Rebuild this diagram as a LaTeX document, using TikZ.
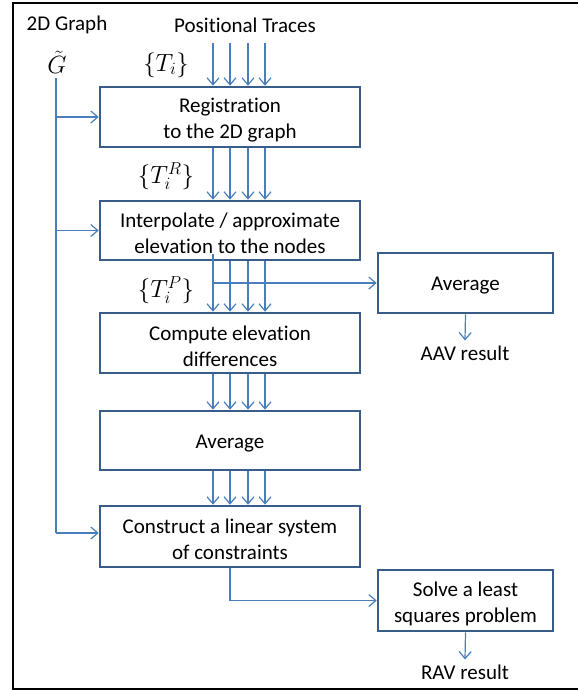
\documentclass[tikz,border=0pt]{standalone}
\usepackage{fontspec}
\setmainfont{Carlito}[Ligatures=NoCommon]
\usetikzlibrary{arrows.meta,calc}

\definecolor{boxblue}{HTML}{385D8A}
\definecolor{linkblue}{HTML}{4A7EBB}

\tikzset{
  boxtext/.style={align=center, inner sep=0pt, yshift=-3pt,
                  font=\fontsize{21}{26}\selectfont},
  stepbox/.style={draw=boxblue, line width=2.6pt, minimum width=260pt,
                  minimum height=60pt, inner sep=0pt,
                  label={[boxtext]center:#1}},
  sidebox/.style={stepbox=#1, minimum width=175pt},
  plaintext/.style={inner sep=1pt, font=\fontsize{21}{26}\selectfont},
  mathtext/.style={inner sep=0pt, font=\fontsize{23}{26}\selectfont},
  arr/.style={draw=linkblue, line width=1.2pt,
              -{Straight Barb[length=7pt,width=12pt,line width=1.2pt]}},
  plain/.style={draw=linkblue, line width=1.2pt},
}

\begin{document}
\begin{tikzpicture}[x=1pt, y=-1pt]
  \useasboundingbox (0,0) rectangle (578,691);

  % frame
  \draw[line width=1.1pt] (578,3) -- (13,3) -- (13,689) -- (578,689);

  % headings and inputs
  \node[plaintext] (graph) at (67,25) {2D Graph};
  \node[plaintext] (traces) at (245,25) {Positional Traces};
  \node[mathtext] (gt) at (57,62) {$\tilde{G}$};
  \node[mathtext] (ti) at (166,65) {$\{T_i\}$};
  \node[mathtext] (tir) at (166,176) {$\{T_i^R\}$};
  \node[mathtext] (tip) at (166,290) {$\{T_i^P\}$};

  % processing chain
  \node[stepbox={Registration\\to the 2D graph}] (b1) at (230,117) {};
  \node[stepbox={Interpolate / approximate\\elevation to the nodes}, minimum height=59pt] (b2) at (230,230.5) {};
  \node[stepbox={Compute elevation\\differences}] (b3) at (230,343) {};
  \node[stepbox={Average}, minimum height=59pt] (b4) at (230,440.5) {};
  \node[stepbox={Construct a linear system\\of constraints}, minimum height=61pt] (b5) at (230,536.5) {};

  \node[sidebox={Average}] (avg) at (465.5,283) {};
  \node[sidebox={Solve a least\\squares problem}, minimum height=61pt] (ls) at (465.5,600.5) {};

  \node[plaintext] (aav) at (465,353) {AAV result};
  \node[plaintext] (rav) at (465,672) {RAV result};

  % incoming traces and the parallel trace sets between steps
  \foreach \dx in {-17,0,18,35} {
    \coordinate (src) at ([xshift=\dx pt]230,43);
    \draw[arr] (src) -- ([xshift=\dx pt]b1.north);
    \draw[arr] ([xshift=\dx pt]b1.south) -- ([xshift=\dx pt]b2.north);
    \draw[arr] ([xshift=\dx pt]b3.south) -- ([xshift=\dx pt]b4.north);
    \draw[arr] ([xshift=\dx pt]b4.south) -- ([xshift=\dx pt]b5.north);
  }
  \foreach \dx in {0,18,35} {
    \draw[arr] ([xshift=\dx pt]b2.south) -- ([xshift=\dx pt]b3.north);
  }
  % first trace also branches off to the absolute average
  \coordinate (br) at ([xshift=-17pt,yshift=7pt]b2.south);
  \draw[arr] (br) -- ([xshift=-17pt]b3.north);
  \draw[arr] (br |- avg.west) -- (avg.west);

  % graph feed
  \coordinate (gtop) at (56,78);
  \coordinate (gbot) at (56,533);
  \draw[plain] (gtop) -- (gbot);
  \draw[arr] (gtop |- b1.west) -- (b1.west);
  \draw[arr] (gtop |- b2.west) -- (b2.west);
  \draw[arr] (gbot) -- (b5.west |- gbot);

  % outputs
  \draw[arr] (b5.south) |- (ls.west);
  \draw[arr] (avg.south) -- ([yshift=4pt]aav.north);
  \draw[arr] (ls.south) -- ([yshift=4pt]rav.north);
\end{tikzpicture}
\end{document}
